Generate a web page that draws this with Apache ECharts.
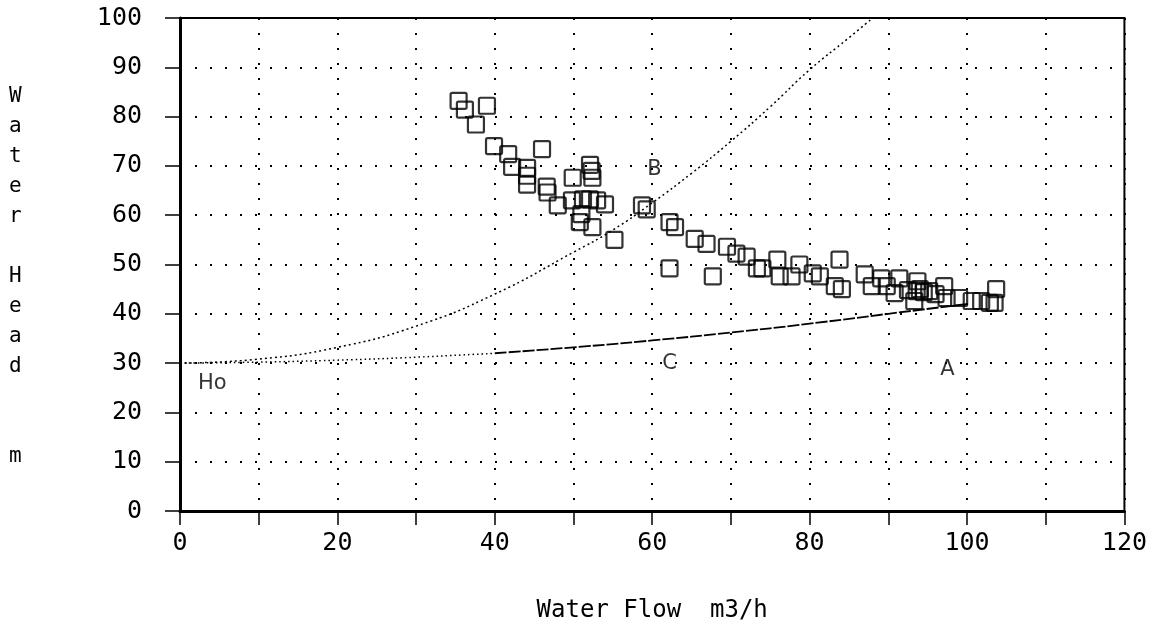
<!DOCTYPE html>
<html>
<head>
<meta charset="utf-8">
<script src="https://cdn.jsdelivr.net/npm/echarts@6/dist/echarts.min.js"></script>
<style>
html,body{margin:0;padding:0;background:#fff;overflow:hidden;}
#chart{width:1150px;height:628px;}
</style>
</head>
<body>
<div id="chart"></div>
<script>
// Measured pump data (Water Flow m3/h, Water Head m)
var flow = [35.4,36.2,39.0,37.6,39.9,41.7,42.2,44.1,44.1,46.0,44.1,46.6,46.7,48.0,49.9,49.8,51.2,52.1,52.3,52.4,52.1,53.0,54.0,50.8,52.4,55.2,
  58.7,59.3,62.2,62.9,62.2,65.4,66.9,67.7,69.5,70.7,72.0,73.3,74.0,75.9,76.2,77.7,78.7,80.4,81.3,83.8,83.2,84.1,
  87.0,87.9,89.1,89.8,91.4,90.8,93.3,93.7,93.6,95.2,97.1,97.4,99.0,100.6,101.8,102.9,103.7,103.5,92.5,94.0,94.5,96.0,51.0];
var head = [83.2,81.4,82.2,78.4,74.0,72.4,69.8,69.6,68.0,73.4,66.2,65.8,64.6,62.0,67.6,63.0,63.2,70.2,69.0,67.6,63.2,63.0,62.2,58.6,57.6,55.0,
  62.0,61.2,58.6,57.6,49.2,55.2,54.2,47.6,53.6,52.2,51.6,49.2,49.2,51.0,47.6,47.6,50.0,48.2,47.6,51.0,45.6,45.0,
  48.0,45.6,47.2,45.6,47.2,44.2,42.6,46.6,44.6,44.6,45.6,43.2,43.2,42.6,42.6,42.2,45.0,42.2,44.8,45.0,44.4,44.0,60.2];

// Curve B (system curve)
var curveBFlow = [0,10,20,30,40,50,55,60,65,70,75,80,85,88];
var curveBHead = [30,30.8,33.2,37.5,44,52.5,57,62.5,68.5,75,82,89.5,96,100];
// Curve C
var curveCFlow = [0,10,20,30,40,50,60,70,80,90,100];
var curveCHead = [30,30.2,30.6,31.2,32,33.2,34.6,36.2,38,40,42];

// Annotation labels
var noteText = ['B','C','A','Ho'];
var noteFlow = [60.3,62.2,97.5,4.1];
var noteHead = [69.2,30.0,28.6,25.8];

var xTicks = [0,20,40,60,80,100,120];
var yTicks = [0,10,20,30,40,50,60,70,80,90,100];

function pairs(a,b){var r=[];for(var i=0;i<a.length;i++)r.push([a[i],b[i]]);return r;}

var scatterData = pairs(flow, head);
var bData = pairs(curveBFlow, curveBHead);
var cAll = pairs(curveCFlow, curveCHead);
var cDotted = cAll.filter(function(p){return p[0]<=40;});
var cSolid = cAll.filter(function(p){return p[0]>=40;});
var notes = noteText.map(function(t,i){return {value:[noteFlow[i],noteHead[i]], name:t};});

var mono = 'DejaVu Sans Mono';
var chart = echarts.init(document.getElementById('chart'), null, {renderer:'canvas'});
chart.setOption({
  backgroundColor:'#fff',
  animation:false,
  grid:{left:180,right:24,top:18,bottom:110,show:true,borderColor:'#000',borderWidth:2,backgroundColor:'transparent'},
  xAxis:{
    type:'value',min:0,max:120,interval:10,
    name:'Water Flow  m3/h',nameLocation:'middle',nameGap:88,
    nameTextStyle:{fontFamily:mono,fontSize:24,color:'#000'},
    axisLine:{show:true,lineStyle:{color:'#000',width:3}},
    axisTick:{show:true,length:14,lineStyle:{color:'#000',width:1.5}},
    axisLabel:{margin:20,fontFamily:mono,fontSize:25,color:'#000',
      formatter:function(v){return xTicks.indexOf(v)>=0?String(v):'';}},
    splitLine:{show:true,lineStyle:{color:'#000',width:2,type:[2,13]}}
  },
  yAxis:{
    type:'value',min:0,max:100,interval:10,
    axisLine:{show:true,lineStyle:{color:'#000',width:3}},
    axisTick:{show:true,length:15,lineStyle:{color:'#000',width:1.5}},
    axisLabel:{margin:38,fontFamily:mono,fontSize:25,color:'#000',
      formatter:function(v){return yTicks.indexOf(v)>=0?String(v):'';}},
    splitLine:{show:true,lineStyle:{color:'#000',width:2,type:[2,13]}}
  },
  graphic:[{
    type:'text',left:9,top:82,
    style:{text:'W\na\nt\ne\nr\n\nH\ne\na\nd\n\n\nm',fontFamily:mono,fontSize:21,lineHeight:30,fill:'#000'}
  }],
  series:[
    {type:'line',data:bData,smooth:true,symbol:'none',lineStyle:{color:'#000',width:1.5,type:[2,3]},z:2},
    {type:'line',data:cDotted,smooth:true,symbol:'none',lineStyle:{color:'#000',width:1.5,type:[1.5,3]},z:2},
    {type:'line',data:cSolid,smooth:true,symbol:'none',lineStyle:{color:'#000',width:1.8,type:[12,2]},z:2},
    {type:'scatter',data:scatterData,
      symbol:'path://M1,0 H9 Q10,0 10,1 V9 Q10,10 9,10 H1 Q0,10 0,9 V1 Q0,0 1,0 Z',
      symbolSize:16,
      itemStyle:{color:'rgba(0,0,0,0)',borderColor:'#000',borderWidth:2.2},z:3},
    {type:'scatter',data:notes,symbolSize:0,silent:true,
      label:{show:true,position:'inside',formatter:function(p){return p.name;},
        fontFamily:'DejaVu Sans',fontSize:21,color:'#000',textBorderWidth:0},z:4}
  ]
});
</script>
</body>
</html>
